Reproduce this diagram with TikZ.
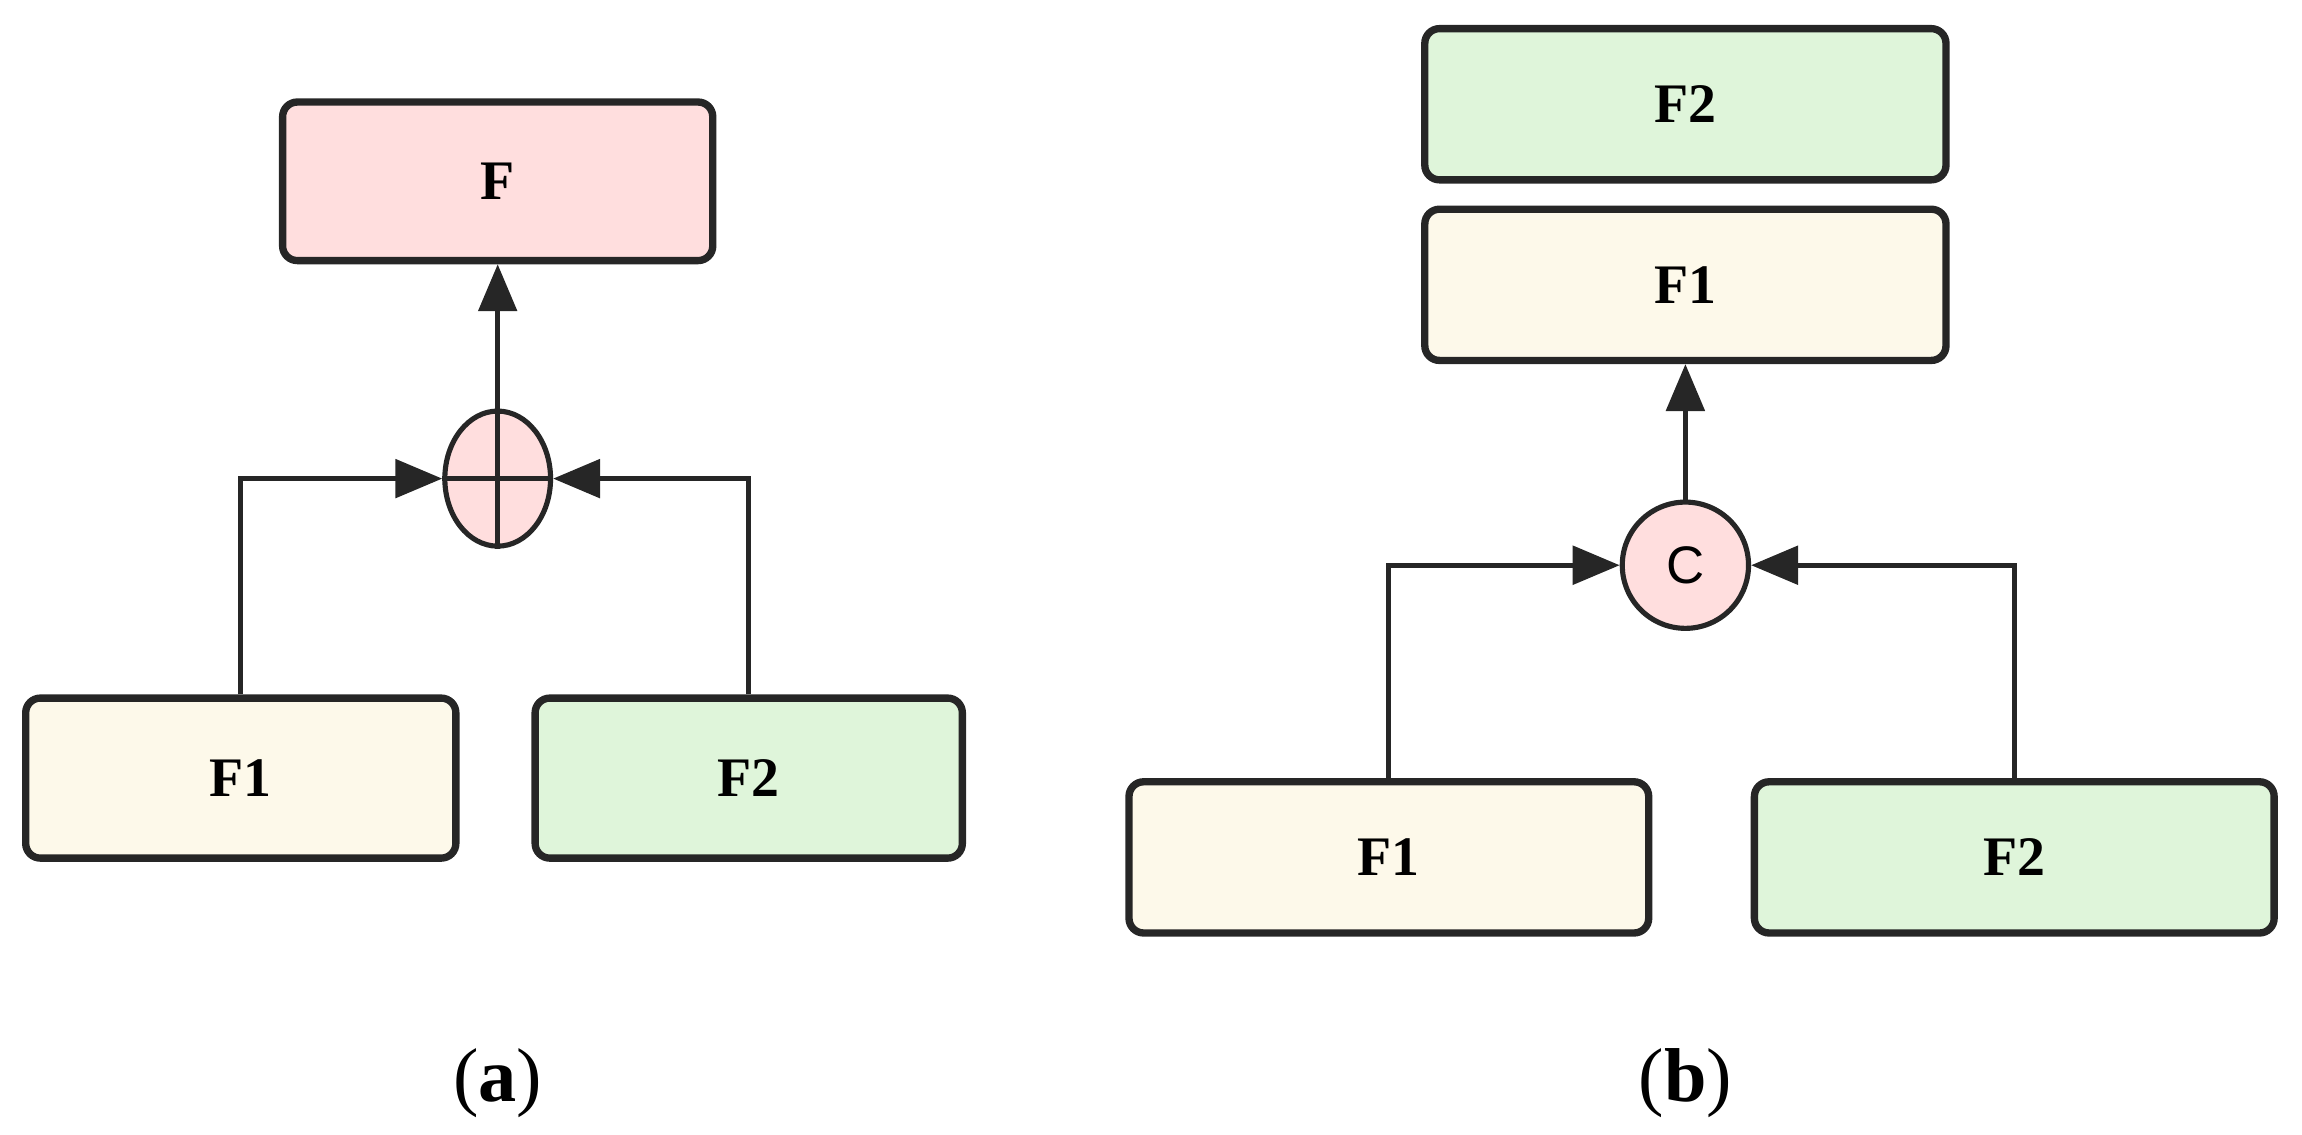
\documentclass[tikz,border=0pt]{standalone}
\usepackage{fontspec}
\setmainfont{Liberation Serif}
\newfontfamily\sansf{Liberation Sans}
\usetikzlibrary{arrows.meta,shapes.geometric}
\definecolor{pinkf}{HTML}{FFDEDE}
\definecolor{creamf}{HTML}{FDF9EA}
\definecolor{greenf}{HTML}{DFF5DA}
\definecolor{ln}{HTML}{262626}
\begin{document}
\begin{tikzpicture}[x=1pt,y=-1pt,
  box/.style={draw=ln,line width=5pt,rounded corners=10pt,font=\fontsize{38}{44}\selectfont\bfseries},
  con/.style={draw=ln,line width=3.5pt},
  arr/.style={con,-{Triangle[length=32pt,width=26pt]}},
  lab/.style={font=\fontsize{52}{60}\selectfont}]
\useasboundingbox (0,0) rectangle (1568,773);
% (a)
\node[box,fill=pinkf,minimum width=293pt,minimum height=108pt] (aF) at (339,123.5) {F};
\node[box,fill=creamf,minimum width=293pt,minimum height=109pt] (aF1) at (164,530) {F1};
\node[box,fill=greenf,minimum width=291pt,minimum height=109pt] (aF2) at (510,530) {F2};
\node[ellipse,draw=ln,line width=3.5pt,fill=pinkf,minimum width=72pt,minimum height=92pt,inner sep=0pt] (aS) at (339,326) {};
\draw[con] (aS.north) -- (aS.south) (aS.west) -- (aS.east);
\draw[arr] (aS.north) -- (aF.south);
\draw[arr] (aF1.north) |- (aS.west);
\draw[arr] (aF2.north) |- (aS.east);
\node[lab] (la) at (339,738) {(\textbf{a})};
% (b)
\node[box,fill=greenf,minimum width=355pt,minimum height=103pt] (bT2) at (1148,71) {F2};
\node[box,fill=creamf,minimum width=355pt,minimum height=103pt] (bT1) at (1148,194) {F1};
\node[box,fill=creamf,minimum width=354pt,minimum height=103pt] (bF1) at (946,584) {F1};
\node[box,fill=greenf,minimum width=354pt,minimum height=103pt] (bF2) at (1372,584) {F2};
\node[circle,draw=ln,line width=3.5pt,fill=pinkf,minimum size=86pt,inner sep=0pt,font=\sansf\fontsize{36}{40}\selectfont] (bC) at (1148,385) {C};
\draw[arr] (bC.north) -- (bT1.south);
\draw[arr] (bF1.north) |- (bC.west);
\draw[arr] (bF2.north) |- (bC.east);
\node[lab] (lb) at (1148,738) {(\textbf{b})};
\end{tikzpicture}
\end{document}
